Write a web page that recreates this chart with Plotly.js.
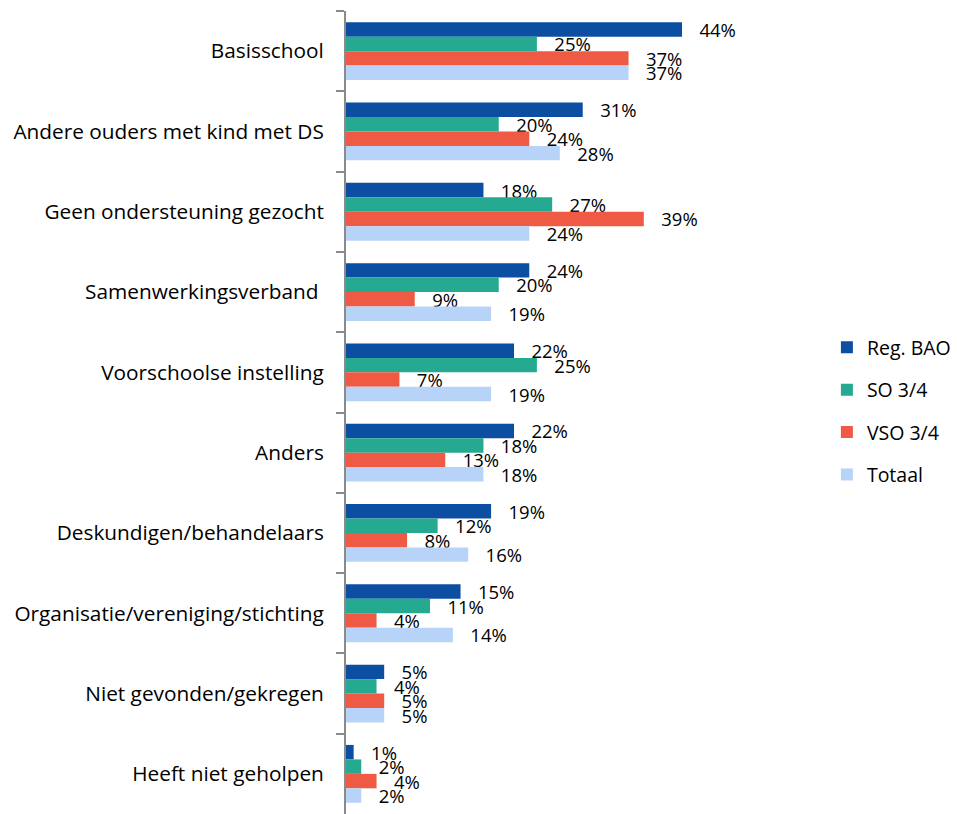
<!DOCTYPE html>
<html><head><meta charset="utf-8">
<script src="https://cdn.plot.ly/plotly-3.0.1.min.js"></script>
<style>html,body{margin:0;padding:0;background:#fff}</style>
</head><body>
<div id="chart" style="width:957px;height:814px"></div>
<script>
const categories = ["Basisschool","Andere ouders met kind met DS","Geen ondersteuning gezocht","Samenwerkingsverband\u00a0","Voorschoolse instelling","Anders","Deskundigen/behandelaars","Organisatie/vereniging/stichting","Niet gevonden/gekregen","Heeft niet geholpen"];
const seriesNames = ["Reg. BAO","SO 3/4","VSO 3/4","Totaal"];
const regBAO = [44,31,18,24,22,22,19,15,5,1];
const so34   = [25,20,27,20,25,18,12,11,4,2];
const vso34  = [37,24,39,9,7,13,8,4,5,4];
const totaal = [37,28,24,19,19,18,16,14,5,2];
const colors = ["#0B4EA2","#25AA91","#EF5A44","#B7D4F8"];

const FONT = "'Open Sans', sans-serif";
const allSeries = [regBAO, so34, vso34, totaal];
const traces = allSeries.map((vals,i)=>({
  type:"bar", orientation:"h",
  name: seriesNames[i], legendgroup:"g"+i,
  x: vals, y: categories,
  marker:{color: colors[i], line:{width:0}},
  text: vals.map(v=>"\u00a0\u00a0\u00a0"+v+"%"),
  textposition:"outside", constraintext:"none", cliponaxis:false,
  textfont:{family:FONT,size:18.5,color:"#000"},
  hoverinfo:"skip"
}));

const layout = {
  width:957, height:814,
  margin:{l:346, r:191, t:11, b:0},
  paper_bgcolor:"#fff", plot_bgcolor:"#fff",
  barmode:"group", bargap:0.28, bargroupgap:0,
  font:{family:FONT, size:18, color:"#000"},
  xaxis:{range:[0,55], visible:false, showgrid:false, zeroline:false},
  yaxis:{autorange:"reversed", type:"category", showline:true, linecolor:"#8a8a8a", linewidth:2,
         ticks:"outside", ticklen:8, tickcolor:"#8a8a8a", tickwidth:2, tickson:"boundaries",
         ticklabelstandoff:16, showgrid:false, zeroline:false,
         tickfont:{family:FONT,size:20.8,color:"#000"}},
  showlegend:true,
  legend:{x:1.145, xanchor:"left", y:0.605, yanchor:"top", traceorder:"grouped", tracegroupgap:14,
          itemwidth:30, font:{family:FONT,size:19.5,color:"#000"}, bgcolor:"rgba(0,0,0,0)"}
};
Plotly.newPlot("chart", traces, layout, {displayModeBar:false, staticPlot:true});
</script>
</body></html>
